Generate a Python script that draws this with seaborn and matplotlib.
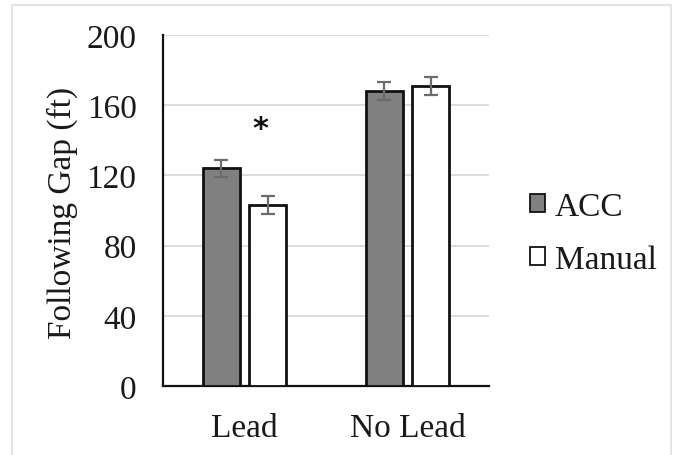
import matplotlib
matplotlib.use("Agg")
import matplotlib.pyplot as plt
import seaborn as sns
import pandas as pd
import numpy as np
from matplotlib.patches import Patch, Rectangle

categories = ["Lead", "No Lead"]
conditions = ["ACC", "Manual"]
acc_values = [124, 168]
manual_values = [103, 171]
acc_err = [5, 5]
manual_err = [5, 5]
yticks = [0, 40, 80, 120, 160, 200]

df = pd.DataFrame({
    "Lead": categories * 2,
    "Condition": ["ACC"] * 2 + ["Manual"] * 2,
    "Gap": acc_values + manual_values,
    "Err": acc_err + manual_err,
})

sns.set_theme(style="white")
plt.rcParams["font.family"] = ["Liberation Serif", "DejaVu Serif"]

FS = 24
fig = plt.figure(figsize=(6.77, 4.56), dpi=100)
ax = fig.add_axes([163 / 677, 1 - 387 / 456, (489 - 163) / 677, (387 - 36) / 456])

palette = {"ACC": "#808080", "Manual": "#ffffff"}
sns.barplot(data=df, x="Lead", y="Gap", hue="Condition", order=categories,
            hue_order=conditions, palette=palette, width=0.567, gap=0.195,
            edgecolor="#111111", linewidth=2, errorbar=None, legend=False, ax=ax,
            zorder=3)

# error bars using bar positions
for cont, cond in zip(ax.containers, conditions):
    sub = df[df["Condition"] == cond].set_index("Lead").loc[categories]
    xs = [p.get_x() + p.get_width() / 2 for p in cont.patches]
    ax.errorbar(xs, sub["Gap"].values, yerr=sub["Err"].values, fmt="none",
                ecolor="#6b6b6b", elinewidth=1.6, capsize=5, capthick=1.6, zorder=4)

ax.set_ylim(0, 200)
ax.set_xlim(-0.5, 1.5)
ax.set_yticks(yticks)
ax.set_yticklabels([str(t) for t in yticks], fontsize=FS)
ax.tick_params(axis="x", labelsize=FS, pad=19, length=0)
ax.tick_params(axis="y", pad=19, length=0)
ax.yaxis.grid(True, color="#d9d9d9", linewidth=1.3, zorder=0)
ax.set_axisbelow(True)
ax.set_xlabel("")
ax.set_ylabel("")
fig.text(62 / 677, 1 - 213 / 456, "Following Gap (ft)", rotation=90, ha="center",
         va="center", fontsize=FS, color="#1a1a1a")
for s in ["top", "right"]:
    ax.spines[s].set_visible(False)
for s in ["left", "bottom"]:
    ax.spines[s].set_color("#111111")
    ax.spines[s].set_linewidth(1.6)
for lbl in ax.get_xticklabels() + ax.get_yticklabels():
    lbl.set_color("#1a1a1a")

# significance asterisk
ax.text(0.1, 147, "*", ha="center", va="center", fontsize=22, fontweight="bold",
        family="DejaVu Sans", color="#111111")

handles = [Patch(facecolor="#808080", edgecolor="#111111", linewidth=1.3),
           Patch(facecolor="#ffffff", edgecolor="#111111", linewidth=1.3)]
fig.legend(handles, conditions, loc="center left", bbox_to_anchor=(513 / 677, 1 - 234 / 456),
           frameon=False, fontsize=FS, handlelength=0.45, handleheight=0.45,
           handletextpad=0.3, labelspacing=0.68, borderpad=0, labelcolor="#1a1a1a")

# light frame around the figure
fig.add_artist(Rectangle((12 / 677, -0.05), (671 - 12) / 677, 1 - 6 / 456 + 0.05,
                         transform=fig.transFigure, fill=False, edgecolor="#e3e3e3",
                         linewidth=1.5))

fig.savefig("out.png", dpi=100, facecolor="white")
